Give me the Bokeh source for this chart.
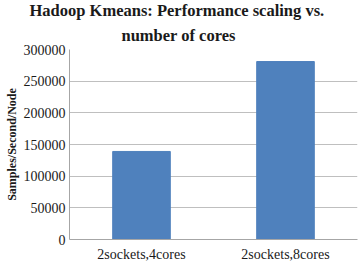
from bokeh.plotting import figure
from bokeh.models import Title, Range1d, FactorRange, ColumnDataSource
from bokeh.embed import file_html
from bokeh.resources import INLINE

categories = ["2sockets,4cores", "2sockets,8cores"]
values = [139000, 281000]
y_ticks = [0, 50000, 100000, 150000, 200000, 250000, 300000]

source = ColumnDataSource(dict(cat=categories, val=values))

p = figure(frame_width=288, frame_height=190, output_backend="svg", toolbar_location=None,
           x_range=FactorRange(*categories, range_padding=0),
           y_range=Range1d(0, 300000),
           min_border_left=69, min_border_right=2, min_border_bottom=24, min_border_top=49)
p.title = None
t2 = Title(text="number of cores", align="left", text_font="Liberation Serif",
           text_font_size="16.5px", text_font_style="bold", text_color="#1a1a1a",
           standoff=10, offset=52)
t1 = Title(text="Hadoop Kmeans: Performance scaling vs.", align="left",
           text_font="Liberation Serif", text_font_size="16.5px", text_font_style="bold",
           text_color="#1a1a1a", standoff=-3, offset=-40)
p.add_layout(t2, "above")
p.add_layout(t1, "above")

p.vbar(x="cat", top="val", width=0.4, source=source, fill_color="#4F81BD",
       line_color="#4F81BD")

p.outline_line_color = None
p.xgrid.grid_line_color = None
p.ygrid.grid_line_color = "#BFBFBF"
p.ygrid.grid_line_width = 1
p.yaxis.ticker = y_ticks
p.yaxis.formatter.use_scientific = False
p.yaxis.axis_label = "Samples/Second/Node"
p.yaxis.axis_label_text_font = "Liberation Serif"
p.yaxis.axis_label_text_font_style = "bold"
p.yaxis.axis_label_text_font_size = "12px"
p.yaxis.axis_label_text_color = "#1a1a1a"
p.yaxis.axis_label_standoff = 2
for ax in (p.xaxis, p.yaxis):
    ax.axis_line_color = "#A6A6A6"
    ax.major_tick_line_color = None
    ax.minor_tick_line_color = None
    ax.major_tick_out = 0
    ax.major_tick_in = 0
    ax.minor_tick_out = 0
    ax.minor_tick_in = 0
    ax.major_label_text_font = "Liberation Serif"
    ax.major_label_text_font_size = "14px"
    ax.major_label_text_color = "#1a1a1a"
p.yaxis.major_label_standoff = 4
p.xaxis.major_label_standoff = 7

open("out.html", "w").write(file_html(p, INLINE))
